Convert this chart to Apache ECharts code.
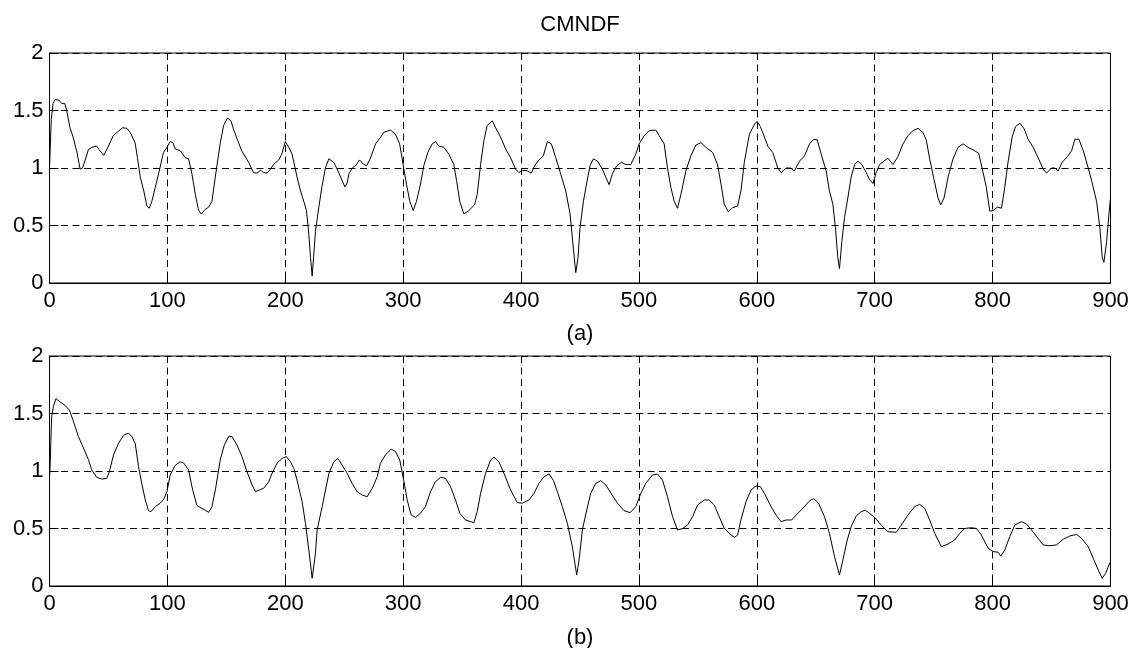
<!DOCTYPE html>
<html>
<head>
<meta charset="utf-8">
<script src="https://cdn.jsdelivr.net/npm/echarts@6/dist/echarts.min.js"></script>
<style>html,body{margin:0;padding:0;background:#fff}#c{width:1136px;height:648px}</style>
</head>
<body>
<div id="c"></div>
<script>
const titleText = 'CMNDF';
const labelA = '(a)';
const labelB = '(b)';
const xTicks = [0,100,200,300,400,500,600,700,800,900];
const yTicks = [0,0.5,1,1.5,2];

const topX = [0,1.5,3,4.7,8,10.5,13,14.6,17.4,20,23,26,28,30,33,36,40,42,46,50,54,58.5,62,65.6,68.4,72.6,74.6,77,80,82.6,84.6,86.8,89.7,92.5,96.7,99.6,102.4,104.7,106.7,111,115,118,120.8,123.7,126.5,128.8,132,135,137.8,140.6,144.9,147.7,151,153.9,156,159.6,163,168.9,173,176,179,181.7,184.6,187.5,190,194.5,197,200,203,205.8,210,213,215.7,218,220,221.4,222.8,224,225.6,228.4,231,234,237,241,244,247,250.6,252.5,254,256.8,259.6,263,266.7,269,272,276.6,281,283.5,289.2,293.4,297,300,302.8,305.6,308.5,311.3,314.7,317.5,320.9,324.6,327.4,330.3,334.5,338.8,343,345.3,348,351.5,355.7,360.6,362.8,365.7,368.5,371.3,375.6,378.4,382.6,386.9,391.1,395.4,398.2,401,405.3,408.7,411.5,415.2,418.9,422.3,425.7,429.4,433.6,437.9,441.6,443.8,446.4,448.3,450,452.9,455.7,458.5,461.4,464.8,469,471.9,474.7,477.5,481.2,485.2,488.9,493.1,497.3,500.2,504.4,508.7,514.3,517.2,521.4,524.2,527.1,529.9,532.7,535.6,539.8,544,548.3,552.6,556.8,562.5,566.7,569.6,572.4,575.8,579.5,583.7,586.5,589.4,593.7,598,600.2,603,606.4,609.3,613.5,617.8,620.6,624.8,628.5,631.9,636.2,640.4,644.7,648.3,651.2,654.6,658.8,661.6,664.5,666.7,668.7,670.1,672.1,674.4,677.2,680,682.9,685.7,689.1,692.8,695.6,698.5,701.3,704.1,707.8,711.2,715.5,719.7,724,728.2,732.4,736.7,740.9,743.8,746.6,750.3,753.7,756,758.8,762.2,766.4,770.7,774.9,779.2,784.8,788.2,791.1,794.7,797.6,800.4,804.1,807.5,810.3,813.2,816.6,819.4,823.1,826.8,830.1,834.4,838.6,842.9,845.7,850,852.8,855.6,859,863.6,867,869.8,873.2,876.9,881.1,884,888.2,891,893,894.4,896.7,898.7,900];
const topY = [1.0,1.42,1.56,1.595,1.59,1.56,1.56,1.5,1.35,1.27,1.15,0.99,1.0,1.06,1.16,1.18,1.19,1.16,1.11,1.19,1.28,1.32,1.35,1.345,1.31,1.22,1.09,0.92,0.80,0.67,0.65,0.71,0.83,0.95,1.135,1.18,1.23,1.22,1.165,1.15,1.09,1.08,0.95,0.77,0.63,0.60,0.64,0.66,0.71,0.92,1.22,1.37,1.435,1.41,1.34,1.24,1.15,1.05,0.96,0.955,0.98,0.96,0.955,0.99,1.03,1.07,1.12,1.23,1.18,1.12,0.92,0.80,0.71,0.63,0.42,0.22,0.06,0.22,0.45,0.655,0.83,1.0,1.08,1.05,0.99,0.92,0.835,0.87,0.95,1.0,1.02,1.07,1.03,1.02,1.08,1.21,1.27,1.31,1.33,1.295,1.21,1.03,0.86,0.71,0.63,0.71,0.86,1.02,1.135,1.21,1.23,1.19,1.18,1.12,1.03,0.89,0.71,0.60,0.63,0.68,0.77,1.03,1.24,1.37,1.41,1.35,1.27,1.165,1.09,0.99,0.96,0.98,0.975,0.955,1.02,1.07,1.105,1.23,1.21,1.09,0.95,0.80,0.60,0.36,0.09,0.22,0.48,0.71,0.87,1.02,1.08,1.06,0.99,0.92,0.855,0.95,1.02,1.05,1.03,1.03,1.12,1.21,1.28,1.325,1.33,1.28,1.21,1.0,0.83,0.71,0.65,0.77,0.975,1.105,1.20,1.22,1.18,1.135,1.03,0.86,0.685,0.62,0.655,0.67,0.80,1.05,1.295,1.38,1.405,1.36,1.27,1.19,1.135,1.0,0.96,1.0,1.0,0.975,1.06,1.105,1.21,1.25,1.245,1.12,0.975,0.80,0.685,0.48,0.22,0.125,0.36,0.57,0.74,0.92,1.03,1.06,1.03,0.96,0.90,0.865,0.96,1.03,1.06,1.085,1.03,1.10,1.21,1.28,1.325,1.345,1.31,1.24,1.08,0.90,0.74,0.68,0.74,0.92,1.08,1.18,1.21,1.18,1.15,1.127,1.0,0.83,0.625,0.63,0.66,0.65,0.83,1.06,1.27,1.36,1.39,1.34,1.25,1.18,1.09,0.99,0.955,1.0,1.0,0.975,1.05,1.10,1.15,1.25,1.25,1.15,1.0,0.89,0.71,0.48,0.22,0.18,0.36,0.60,0.74];

const botX = [0,0.4,1.8,3.3,5.5,9,13.2,16.9,20,24.5,28.8,33,35.8,40,44.3,48.6,50.8,54.3,58.5,62.7,67,69.8,72.7,75.5,78.3,81.2,84,86,89.7,93.9,96.7,99.6,102.4,106.7,110.9,113.7,118,120.8,125,129.3,132,135,137.8,140.7,144.9,148.3,152,154.8,159,163.3,167.5,171.8,174.6,178.3,181.7,186,188.8,193,197.3,200.9,204.4,207.2,210,214.3,217.1,220,222.8,225.6,227,231.3,234.1,237,241.2,244.6,248.3,252.5,256.8,261,265.3,269.5,273.8,278,280.7,284.9,289.8,293.4,297.1,300.5,303.4,306.8,310.4,314.7,318.9,323.2,327.4,331.7,335.9,340.2,344.4,348.1,352.9,357.2,360,362.8,365.7,369.9,374.2,377,381.2,385.5,391.1,396.8,401,406.7,411,415.2,419.5,423.7,427.4,430.8,435,439.3,443.5,447.2,449.2,452,455.7,459.1,463.4,467.6,471.9,476.1,481.8,487.4,492.5,497.3,501.6,505.8,511.5,515.8,520,524.2,528.5,532.7,537,541.2,545.5,549.7,555.4,559.6,563.9,568.1,572.4,576.6,580.9,583.7,586.5,590.8,595.1,599.3,603,606.4,612.1,616.3,620.6,624.8,629.6,633.3,639,644.7,648.3,652.3,657.4,661.6,665.9,670.1,673,676.7,680,684.3,688.5,692,695.6,699.9,705.5,711.2,718.3,722.5,728.2,733.9,738.1,742.4,746.6,750.9,756.5,762.2,767.8,772.1,776.3,782,786.3,790.5,796.2,800.4,804.7,806.9,810.3,814.6,818.8,824.5,828.7,833,838.6,842.9,848.6,854.2,859.9,865.5,871.2,875.5,881.1,885.4,889.6,893,895.9,898.7,900];
const botY = [0.95,1.01,1.47,1.56,1.63,1.60,1.57,1.53,1.44,1.30,1.20,1.10,1.01,0.945,0.93,0.936,0.994,1.14,1.24,1.31,1.33,1.30,1.24,1.04,0.89,0.75,0.655,0.646,0.69,0.72,0.75,0.82,0.965,1.05,1.08,1.07,1.01,0.864,0.70,0.675,0.66,0.64,0.69,0.835,1.10,1.226,1.30,1.30,1.226,1.125,0.994,0.88,0.82,0.835,0.85,0.907,0.98,1.067,1.11,1.125,1.08,1.023,0.92,0.733,0.545,0.313,0.067,0.284,0.487,0.69,0.835,0.98,1.08,1.11,1.05,0.98,0.89,0.82,0.79,0.777,0.85,0.95,1.067,1.14,1.19,1.17,1.096,0.92,0.748,0.617,0.597,0.632,0.69,0.82,0.907,0.945,0.936,0.864,0.748,0.632,0.574,0.56,0.55,0.646,0.806,0.98,1.096,1.12,1.08,0.98,0.835,0.725,0.72,0.748,0.806,0.893,0.95,0.974,0.92,0.82,0.69,0.545,0.342,0.096,0.226,0.487,0.66,0.806,0.893,0.916,0.878,0.81,0.72,0.655,0.638,0.69,0.806,0.893,0.965,0.974,0.92,0.777,0.603,0.487,0.50,0.53,0.603,0.704,0.748,0.748,0.704,0.603,0.50,0.458,0.423,0.443,0.574,0.733,0.835,0.87,0.864,0.806,0.69,0.617,0.56,0.574,0.574,0.617,0.675,0.74,0.76,0.72,0.603,0.458,0.255,0.096,0.226,0.40,0.516,0.609,0.646,0.66,0.632,0.597,0.53,0.472,0.467,0.53,0.617,0.69,0.71,0.675,0.574,0.458,0.342,0.365,0.40,0.458,0.50,0.507,0.50,0.443,0.328,0.30,0.293,0.26,0.313,0.43,0.53,0.56,0.54,0.487,0.414,0.357,0.35,0.357,0.406,0.435,0.449,0.414,0.342,0.24,0.139,0.067,0.11,0.183,0.21];

const pairs = (xs, ys) => xs.map((x, i) => [x, ys[i]]);
const FONT = '"Liberation Sans", Arial, sans-serif';
const FS = 22;

function xAxis(gridIndex) {
  return {
    type: 'value', gridIndex, min: xTicks[0], max: xTicks[xTicks.length - 1], interval: 100,
    axisLine: { show: true, onZero: false, lineStyle: { color: '#000', width: 1 } },
    axisTick: { show: true, inside: true, length: 9, lineStyle: { color: '#000' } },
    axisLabel: { color: '#000', fontSize: FS, fontFamily: FONT, margin: 7 },
    splitLine: { show: true, lineStyle: { color: '#000', type: [7, 4.5], width: 1 } }
  };
}
function yAxis(gridIndex) {
  return {
    type: 'value', gridIndex, min: yTicks[0], max: yTicks[yTicks.length - 1], interval: 0.5,
    axisLine: { show: true, lineStyle: { color: '#000', width: 1 } },
    axisTick: { show: true, inside: true, length: 9, lineStyle: { color: '#000' } },
    axisLabel: { color: '#000', fontSize: FS, fontFamily: FONT, margin: 6 },
    splitLine: { show: true, lineStyle: { color: '#000', type: [7, 4.5], width: 1 } }
  };
}

const chart = echarts.init(document.getElementById('c'), null, { renderer: 'canvas' });
chart.setOption({
  animation: false,
  backgroundColor: '#fff',
  grid: [
    { left: 49.5, right: 25.5, top: 53, height: 230, show: true, borderColor: '#000', borderWidth: 1, backgroundColor: 'transparent' },
    { left: 49.5, right: 25.5, top: 356, height: 230, show: true, borderColor: '#000', borderWidth: 1, backgroundColor: 'transparent' }
  ],
  xAxis: [xAxis(0), xAxis(1)],
  yAxis: [yAxis(0), yAxis(1)],
  series: [
    { type: 'line', xAxisIndex: 0, yAxisIndex: 0, data: pairs(topX, topY), showSymbol: false, lineStyle: { color: '#000', width: 1 }, silent: true },
    { type: 'line', xAxisIndex: 1, yAxisIndex: 1, data: pairs(botX, botY), showSymbol: false, lineStyle: { color: '#000', width: 1 }, silent: true }
  ],
  graphic: [
    { type: 'text', x: 580, y: 25, style: { text: titleText, fill: '#000', font: FS + 'px ' + FONT, align: 'center', verticalAlign: 'middle' } },
    { type: 'text', x: 580, y: 334, style: { text: labelA, fill: '#000', font: FS + 'px ' + FONT, align: 'center', verticalAlign: 'middle' } },
    { type: 'text', x: 580, y: 638, style: { text: labelB, fill: '#000', font: FS + 'px ' + FONT, align: 'center', verticalAlign: 'middle' } }
  ]
});
</script>
</body>
</html>
